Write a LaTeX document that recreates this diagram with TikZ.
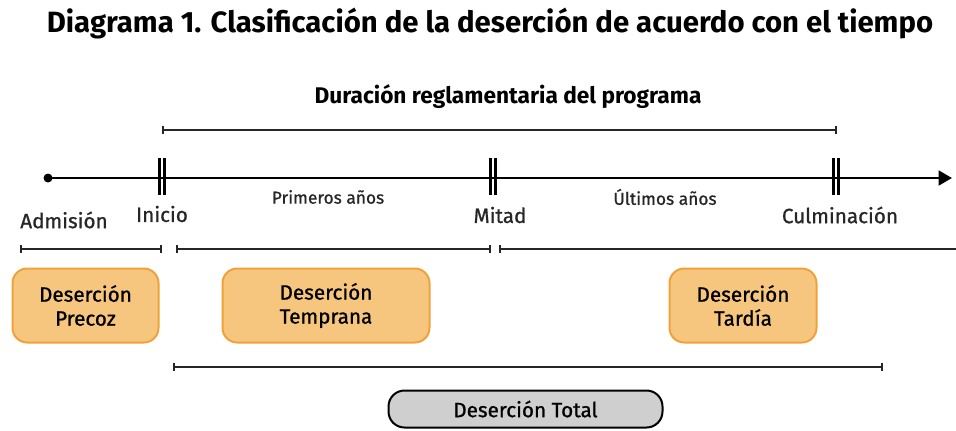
\documentclass[tikz,border=0pt]{standalone}
\usepackage{fontspec}
\setmainfont{Fira Sans}
\newfontfamily\medio{Fira Sans}[FakeBold=0.9]
\usepackage{xcolor}
\usetikzlibrary{arrows.meta}

\definecolor{naranja}{HTML}{F7C67E}
\definecolor{naranjaborde}{HTML}{F0A23A}
\definecolor{gristotal}{HTML}{CFCFCF}

\tikzset{
  rango/.style={{Bar[width=6pt]}-{Bar[width=6pt]}, line width=1.4pt, black!85},
  caja/.style={draw=naranjaborde, fill=naranja, line width=1.5pt, rounded corners=11pt, align=center, font=\medio\fontsize{15.5}{18}\selectfont, inner sep=0pt},
  hito/.style={font=\medio\fontsize{15.5}{18}\selectfont, black!85},
  etapa/.style={font=\medio\fontsize{13}{15}\selectfont, black!85},
}

\begin{document}
\begin{tikzpicture}[x=0.75pt, y=-0.75pt]
  \useasboundingbox (0,0) rectangle (956,430);

  % Title
  \node[font=\bfseries\fontsize{22}{24}\selectfont] (titulo) at (490,24) {Diagrama 1. Clasificación de la deserción de acuerdo con el tiempo};
  \node[font=\bfseries\fontsize{17}{20}\selectfont] (duracion) at (508,97) {Duración reglamentaria del programa};

  % Program duration
  \coordinate (d1) at (162,130);
  \coordinate (d2) at (837,130);
  \draw[rango] (d1) -- (d2);

  % Timeline
  \coordinate (adm) at (48,178);
  \coordinate (ini) at (162,178);
  \coordinate (mit) at (493,178);
  \coordinate (cul) at (836,178);
  \coordinate (fin) at (952,178);
  \fill (adm) circle (4.5);
  \draw[line width=2pt, -{Triangle[length=10pt, width=11pt]}] (adm) -- (fin);
  \foreach \p in {ini, mit, cul} {
    \draw[line width=2pt] ([xshift=-2]\p) ++(0,-20) -- ++(0,37);
    \draw[line width=2pt] ([xshift=2]\p) ++(0,-20) -- ++(0,37);
  }

  % Labels
  \node[hito] (ladm) at (64,220) {Admisión};
  \node[hito] (lini) at (162,214) {Inicio};
  \node[etapa] (lpri) at (328,197) {Primeros años};
  \node[hito] (lmit) at (500,215) {Mitad};
  \node[etapa] (lult) at (665,197) {Últimos años};
  \node[hito] (lcul) at (840,215) {Culminación};

  % Ranges
  \coordinate (r1a) at (20,249);
  \coordinate (r1b) at (162,249);
  \coordinate (r2a) at (176,249);
  \coordinate (r2b) at (491,249);
  \coordinate (r3a) at (499,249);
  \coordinate (r3b) at (960,249);
  \draw[rango] (r1a) -- (r1b);
  \draw[rango] (r2a) -- (r2b);
  \draw[rango] (r3a) -- (r3b);

  % Dropout types
  \node[caja, minimum width=146pt*0.75, minimum height=74pt*0.75] (precoz) at (85.5,305.5) {Deserción\\Precoz};
  \node[caja, minimum width=207pt*0.75, minimum height=74pt*0.75] (temprana) at (326,305.5) {Deserción\\Temprana};
  \node[caja, minimum width=147pt*0.75, minimum height=74pt*0.75] (tardia) at (743,305.5) {Deserción\\Tardía};

  % Total
  \coordinate (t1) at (173,367);
  \coordinate (t2) at (883,367);
  \draw[rango] (t1) -- (t2);
  \node[draw, line width=1.5pt, fill=gristotal, rounded corners=12pt, minimum width=274pt*0.75, minimum height=37pt*0.75, inner sep=0pt, font=\medio\fontsize{15.5}{18}\selectfont] (total) at (525.5,409) {Deserción Total};
\end{tikzpicture}
\end{document}
